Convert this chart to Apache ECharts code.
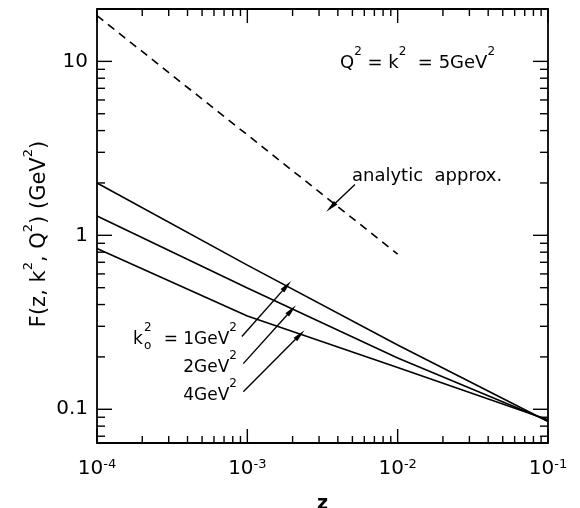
<!DOCTYPE html>
<html><head><meta charset="utf-8">
<script src="https://cdn.jsdelivr.net/npm/echarts@6/dist/echarts.min.js"></script>
<style>html,body{margin:0;padding:0;background:#fff}#c{width:580px;height:508px}</style>
</head><body><div id="c"></div>
<script>
// ---- data ----
const zPoints = [1e-4, 1e-3, 1e-2, 1e-1];
const F_k0_1 = [2.0, 0.674, 0.234, 0.085];
const F_k0_2 = [1.29, 0.498, 0.197, 0.086];
const F_k0_4 = [0.84, 0.344, 0.174, 0.087];
const zAnalytic = [1e-4, 1e-3, 1e-2];
const F_analytic = [18.3, 3.78, 0.78];
// tick values
const xMajorTicks = [1e-4, 1e-3, 1e-2, 1e-1];
const xMinorTicks = [2e-4,3e-4,4e-4,5e-4,6e-4,7e-4,8e-4,9e-4,
                     2e-3,3e-3,4e-3,5e-3,6e-3,7e-3,8e-3,9e-3,
                     2e-2,3e-2,4e-2,5e-2,6e-2,7e-2,8e-2,9e-2];
const yMajorTicks = [0.1, 1, 10];
const yMinorTicks = [0.07,0.08,0.09,0.2,0.3,0.4,0.5,0.6,0.7,0.8,0.9,2,3,4,5,6,7,8,9];
const yTickLabels = {'0.1':'0.1','1':'1','10':'10'};
// annotation arrows: [start, tip] in data coordinates
const arrowAnalytic = [[5.2e-3, 1.96], [3.6e-3, 1.45]];
const arrowK1 = [[9.2e-4, 0.262], [1.83e-3, 0.512]];
const arrowK2 = [[9.4e-4, 0.183], [1.97e-3, 0.372]];
const arrowK4 = [[9.4e-4, 0.126], [2.24e-3, 0.268]];

const FONT = "'DejaVu Sans', sans-serif";
const BLACK = '#000';
const pair = (xs, ys) => xs.map((x, i) => [x, ys[i]]);
const arrowShape = 'path://M5,0 L10,40 L0,40 Z';
const arrowLine = (a) => [{coord: a[0], symbol: 'none'}, {coord: a[1], symbol: arrowShape, symbolSize: [5, 13]}];

const richTxt = {
  n: {fontSize: 18, fontFamily: FONT, color: BLACK, lineHeight: 26, verticalAlign: 'bottom'},
  s: {fontSize: 12, fontFamily: FONT, color: BLACK, lineHeight: 18, verticalAlign: 'top'}
};
const richLbl = {
  n: {fontSize: 17, fontFamily: FONT, color: BLACK, lineHeight: 26, verticalAlign: 'bottom'},
  s: {fontSize: 12, fontFamily: FONT, color: BLACK, lineHeight: 18, verticalAlign: 'top'}
};

const chart = echarts.init(document.getElementById('c'));
const option = {
  backgroundColor: '#fff',
  animation: false,
  grid: {left: 97, right: 32, top: 9, bottom: 65, show: true, borderColor: BLACK, borderWidth: 1.8,
         backgroundColor: 'transparent', containLabel: false, outerBoundsMode: 'none'},
  xAxis: {
    type: 'log', min: 1e-4, max: 1e-1, logBase: 10,
    axisLine: {show: false}, axisTick: {show: false}, splitLine: {show: false}, minorTick: {show: false},
    name: 'z', nameLocation: 'middle', nameGap: 52,
    nameTextStyle: {fontFamily: FONT, fontSize: 19, fontWeight: 'bold', color: BLACK},
    axisLabel: {
      margin: 15, color: BLACK,
      formatter: (v) => '{b|10}{e|' + Math.round(Math.log10(v)) + '}',
      rich: {
        b: {fontSize: 20, fontFamily: FONT, color: BLACK, lineHeight: 21, verticalAlign: 'bottom'},
        e: {fontSize: 13, fontFamily: FONT, color: BLACK, lineHeight: 14, verticalAlign: 'top'}
      }
    }
  },
  yAxis: {
    type: 'log', min: 0.064, max: 20, logBase: 10,
    axisLine: {show: false}, axisTick: {show: false}, splitLine: {show: false}, minorTick: {show: false},
    axisLabel: {
      margin: 9, color: BLACK, fontSize: 20, fontFamily: FONT,
      showMinLabel: false, showMaxLabel: false,
      formatter: (v) => {
        const k = String(parseFloat(v.toPrecision(6)));
        return yTickLabels[k] || '';
      }
    }
  },
  series: [
    {type: 'line', data: pair(zPoints, F_k0_1), symbol: 'none', lineStyle: {color: BLACK, width: 1.6}, z: 3,
     markLine: {silent: true, symbol: ['none', 'none'], lineStyle: {color: BLACK, width: 1.4, type: 'solid'}, label: {show: false},
       data: [arrowLine(arrowK1), arrowLine(arrowK2), arrowLine(arrowK4)]}},
    {type: 'line', data: pair(zPoints, F_k0_2), symbol: 'none', lineStyle: {color: BLACK, width: 1.6}, z: 3},
    {type: 'line', data: pair(zPoints, F_k0_4), symbol: 'none', lineStyle: {color: BLACK, width: 1.6}, z: 3},
    {type: 'line', data: pair(zAnalytic, F_analytic), symbol: 'none', lineStyle: {color: BLACK, width: 1.6, type: [8, 6]}, z: 3,
     markLine: {silent: true, symbol: ['none', 'none'], lineStyle: {color: BLACK, width: 1.4, type: 'solid'}, label: {show: false},
       data: [arrowLine(arrowAnalytic)]}},
    {
      type: 'custom', coordinateSystem: 'cartesian2d', silent: true, clip: false, z: 4,
      data: [[1e-3, 1]],
      renderItem: (params, api) => {
        const cs = params.coordSys;
        const L = cs.x, T = cs.y, R = cs.x + cs.width, B = cs.y + cs.height;
        const ch = [];
        const seg = (x1, y1, x2, y2) => ch.push({type: 'line', shape: {x1, y1, x2, y2}, style: {stroke: BLACK, lineWidth: 1.4}});
        xMajorTicks.forEach(v => { const x = api.coord([v, 1])[0]; seg(x, B, x, B - 14); seg(x, T, x, T + 14); });
        xMinorTicks.forEach(v => { const x = api.coord([v, 1])[0]; seg(x, B, x, B - 7); seg(x, T, x, T + 7); });
        yMajorTicks.forEach(v => { const y = api.coord([1e-3, v])[1]; seg(L, y, L + 15, y); seg(R, y, R - 15, y); });
        yMinorTicks.forEach(v => { const y = api.coord([1e-3, v])[1]; seg(L, y, L + 8, y); seg(R, y, R - 8, y); });
        return {type: 'group', children: ch};
      }
    }
  ],
  graphic: [
    {type: 'text', x: 36, y: 234, rotation: Math.PI / 2,
     style: {text: '{n|F(z, k}{s|2}{n|, Q}{s|2}{n|) (GeV}{s|2}{n|)}', rich: {
       n: {fontSize: 21, fontFamily: FONT, color: BLACK, lineHeight: 28, verticalAlign: 'bottom'},
       s: {fontSize: 13, fontFamily: FONT, color: BLACK, lineHeight: 19, verticalAlign: 'top'}},
       align: 'center', verticalAlign: 'middle'}},
    {type: 'text', x: 340, y: 46,
     style: {text: '{n|Q}{s|2}{n| = k}{s|2}{n|  = 5GeV}{s|2}', rich: richTxt}},
    {type: 'text', x: 352, y: 159,
     style: {text: '{n|analytic  approx.}', rich: richTxt}},
    {type: 'text', x: 133, y: 322, style: {text: '{n|k}', rich: richLbl}},
    {type: 'text', x: 144, y: 322, style: {text: '{s|2}', rich: richLbl}},
    {type: 'text', x: 144, y: 340, style: {text: '{s|o}', rich: richLbl}},
    {type: 'text', x: 237, y: 322, style: {text: '{n| = 1GeV}{s|2}', rich: richLbl, align: 'right'}},
    {type: 'text', x: 237, y: 350, style: {text: '{n|2GeV}{s|2}', rich: richLbl, align: 'right'}},
    {type: 'text', x: 237, y: 378, style: {text: '{n|4GeV}{s|2}', rich: richLbl, align: 'right'}}
  ]
};
chart.setOption(option);
</script>
</body></html>
